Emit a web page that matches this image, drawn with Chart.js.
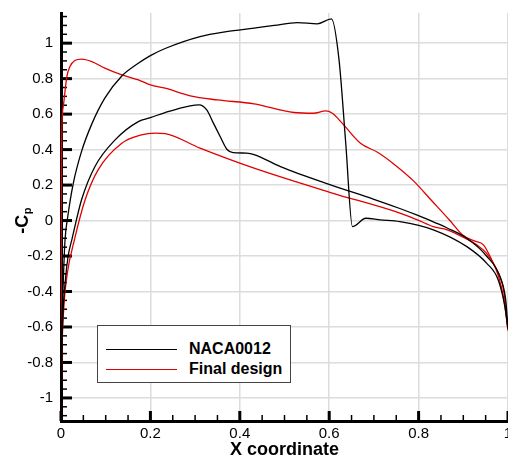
<!DOCTYPE html>
<html lang="en">
<head>
  <meta charset="UTF-8" />
  <title>Pressure coefficient</title>
  <script src="https://cdn.jsdelivr.net/npm/chart.js"></script>
  <style>
    body {
      margin: 0;
      padding: 0;
      background: white;
      overflow: hidden;
      font-family: 'Liberation Sans', Arial, sans-serif;
    }

    .wrap {
      position: relative;
      width: 508px;
      height: 457px;
    }

    .legend-box {
      position: absolute;
      left: 97px;
      top: 325px;
      width: 194px;
      height: 58px;
      box-sizing: border-box;
      border: 1.5px solid #444;
      background: white;
    }

    .legend-row {
      position: absolute;
      left: 0;
      height: 20px;
      display: flex;
      align-items: center;
    }

    .legend-line {
      width: 71px;
      margin-left: 8px;
      margin-right: 12px;
    }

    .legend-text {
      font-weight: bold;
      font-size: 16px;
      color: black;
    }
  </style>
</head>
<body>
  <div class="wrap">
    <canvas id="cpChart" width="508" height="457"></canvas>
    <div class="legend-box" id="legend"></div>
  </div>

  <script>
    // surface values, leading edge -> trailing edge
    const nacaUpperX  = [0, 0.0005, 0.002, 0.005, 0.009, 0.015, 0.0275, 0.046, 0.069, 0.098, 0.136, 0.172, 0.2, 0.233, 0.311, 0.37, 0.432, 0.477, 0.529, 0.573, 0.605, 0.622, 0.637, 0.652, 0.682, 0.714, 0.758, 0.833, 0.908, 0.952, 0.978, 0.993, 1.0];
    const nacaUpperCp = [-1.1, -0.9, -0.6, -0.35, -0.11, 0.02, 0.21, 0.39, 0.545, 0.69, 0.815, 0.885, 0.93, 0.97, 1.037, 1.065, 1.085, 1.10, 1.116, 1.109, 1.137, 0.906, 0.436, -0.034, 0.013, 0.004, -0.006, -0.052, -0.147, -0.24, -0.334, -0.485, -0.61];

    const nacaLowerX  = [0, 0.001, 0.004, 0.01, 0.016, 0.025, 0.046, 0.076, 0.121, 0.173, 0.2, 0.233, 0.289, 0.309, 0.326, 0.341, 0.356, 0.371, 0.385, 0.415, 0.432, 0.491, 0.603, 0.7, 0.758, 0.797, 0.833, 0.864, 0.908, 0.952, 0.982, 0.995, 1.0];
    const nacaLowerCp = [-1.1, -0.85, -0.55, -0.33, -0.2, -0.1, 0.117, 0.305, 0.455, 0.558, 0.58, 0.609, 0.647, 0.652, 0.624, 0.549, 0.474, 0.402, 0.383, 0.38, 0.372, 0.304, 0.201, 0.12, 0.068, 0.03, -0.008, -0.042, -0.1, -0.2, -0.316, -0.45, -0.61];

    const finalUpperX  = [0, 0.0002, 0.0005, 0.0008, 0.0015, 0.005, 0.013, 0.02, 0.031, 0.046, 0.069, 0.098, 0.136, 0.173, 0.2, 0.233, 0.289, 0.35, 0.432, 0.521, 0.565, 0.592, 0.607, 0.629, 0.67, 0.708, 0.745, 0.788, 0.83, 0.87, 0.9, 0.925, 0.945, 0.96, 0.979, 0.991, 1.0];
    const finalUpperCp = [-1.1, -0.8, -0.4, 0.0, 0.455, 0.643, 0.81, 0.868, 0.902, 0.91, 0.896, 0.859, 0.821, 0.793, 0.765, 0.746, 0.703, 0.68, 0.658, 0.609, 0.605, 0.618, 0.605, 0.549, 0.436, 0.385, 0.318, 0.225, 0.11, 0.0, -0.085, -0.115, -0.137, -0.203, -0.316, -0.447, -0.62];

    const finalLowerX  = [0, 0.002, 0.006, 0.014, 0.03, 0.054, 0.083, 0.136, 0.18, 0.21, 0.233, 0.311, 0.432, 0.603, 0.758, 0.797, 0.833, 0.864, 0.908, 0.93, 0.952, 0.975, 0.99, 1.0];
    const finalLowerCp = [-1.1, -0.75, -0.5, -0.3, -0.109, 0.117, 0.286, 0.436, 0.483, 0.493, 0.49, 0.408, 0.295, 0.158, 0.042, 0.004, -0.034, -0.052, -0.105, -0.137, -0.184, -0.278, -0.39, -0.62];

    const seriesNames = ['NACA0012', 'Final design'];
    const seriesColors = ['#000000', '#e00000'];

    const xTicks = [0, 0.2, 0.4, 0.6, 0.8, 1];
    const yTicks = [-1, -0.8, -0.6, -0.4, -0.2, 0, 0.2, 0.4, 0.6, 0.8, 1];
    const xRange = [0, 1];
    const yRange = [-1.13, 1.17];
    const minorStep = 0.05;

    function pts(xs, ys) {
      return xs.map((x, i) => ({ x, y: ys[i] }));
    }

    const FONT = "'Liberation Sans', Arial, sans-serif";

    // inward major/minor ticks plus the axis titles
    const axisExtras = {
      id: 'axisExtras',
      beforeDatasetsDraw(chart) {
        const { ctx, chartArea, scales: { x, y } } = chart;
        ctx.save();
        ctx.strokeStyle = '#000';
        const nx = Math.round((xRange[1] - xRange[0]) / minorStep);
        for (let i = 0; i <= nx; i++) {
          const v = xRange[0] + i * minorStep;
          const major = xTicks.some(t => Math.abs(t - v) < 1e-6);
          const px = x.getPixelForValue(v);
          ctx.lineWidth = major ? 3 : 1.5;
          ctx.beginPath();
          ctx.moveTo(px, chartArea.bottom);
          ctx.lineTo(px, chartArea.bottom - (major ? 10 : 6));
          ctx.stroke();
        }
        const start = Math.ceil(yRange[0] / minorStep);
        const end = Math.floor(yRange[1] / minorStep);
        for (let i = start; i <= end; i++) {
          const v = i * minorStep;
          const major = yTicks.some(t => Math.abs(t - v) < 1e-6);
          const py = y.getPixelForValue(v);
          ctx.lineWidth = major ? 3 : 1.5;
          ctx.beginPath();
          ctx.moveTo(chartArea.left, py);
          ctx.lineTo(chartArea.left + (major ? 11 : 6), py);
          ctx.stroke();
        }
        ctx.restore();
      },
      afterDraw(chart) {
        const { ctx, chartArea } = chart;
        ctx.save();
        ctx.fillStyle = '#000';

        // x title
        ctx.font = 'bold 18px ' + FONT;
        ctx.textAlign = 'center';
        ctx.textBaseline = 'alphabetic';
        ctx.fillText('X coordinate', (chartArea.left + chartArea.right) / 2, 455);

        // y title, -C with subscript p
        ctx.translate(21, 221);
        ctx.rotate(-Math.PI / 2);
        ctx.font = 'bold 18px ' + FONT;
        const w1 = ctx.measureText('-C').width;
        ctx.font = 'bold 11px ' + FONT;
        const w2 = ctx.measureText('p').width;
        const x0 = -(w1 + w2) / 2;
        ctx.textAlign = 'left';
        ctx.font = 'bold 18px ' + FONT;
        ctx.fillText('-C', x0, 6.5);
        ctx.font = 'bold 11px ' + FONT;
        ctx.fillText('p', x0 + w1 + 0.5, 10);
        ctx.restore();
      }
    };

    // upper and lower surface of each case are drawn as separate lines
    const surfaces = [
      { label: seriesNames[0], color: seriesColors[0], data: pts(nacaUpperX, nacaUpperCp) },
      { label: seriesNames[0], color: seriesColors[0], data: pts(nacaLowerX, nacaLowerCp) },
      { label: seriesNames[1], color: seriesColors[1], data: pts(finalUpperX, finalUpperCp) },
      { label: seriesNames[1], color: seriesColors[1], data: pts(finalLowerX, finalLowerCp) }
    ];

    const ctx = document.getElementById('cpChart').getContext('2d');
    const cpChart = new Chart(ctx, {
      type: 'scatter',
      data: {
        datasets: surfaces.map(s => ({
          label: s.label,
          data: s.data,
          borderColor: s.color,
          backgroundColor: s.color
        }))
      },
      options: {
        responsive: false,
        animation: false,
        showLine: true,
        elements: {
          point: { radius: 0, hoverRadius: 0 },
          line: { borderWidth: 1.3, cubicInterpolationMode: 'monotone', fill: false }
        },
        layout: { padding: { top: 13, left: 0, right: 0, bottom: 0 } },
        plugins: {
          legend: { display: false },
          tooltip: { enabled: false }
        },
        scales: {
          x: {
            type: 'linear',
            min: xRange[0],
            max: xRange[1],
            afterBuildTicks: scale => { scale.ticks = xTicks.map(v => ({ value: v })); },
            afterFit: scale => {
              scale.height = 36;
              scale.paddingLeft = 0;
              scale.paddingRight = 0;
            },
            ticks: {
              autoSkip: false,
              maxRotation: 0,
              padding: 4,
              color: '#000',
              font: { family: FONT, size: 15 },
              callback: v => String(+Number(v).toFixed(2))
            },
            grid: { color: '#dcdcdc', lineWidth: 1.5, drawTicks: false },
            border: { color: '#000', width: 3 }
          },
          y: {
            type: 'linear',
            min: yRange[0],
            max: yRange[1],
            afterBuildTicks: scale => { scale.ticks = yTicks.map(v => ({ value: v })); },
            afterFit: scale => {
              scale.width = 61;
              scale.paddingTop = 0;
              scale.paddingBottom = 0;
            },
            ticks: {
              autoSkip: false,
              padding: 8,
              color: '#000',
              font: { family: FONT, size: 15 },
              callback: v => String(+Number(v).toFixed(2))
            },
            grid: { color: '#dcdcdc', lineWidth: 1.5, drawTicks: false },
            border: { color: '#000', width: 3 }
          }
        }
      },
      plugins: [axisExtras]
    });

    // legend box, one row per case
    const legend = document.getElementById('legend');
    seriesNames.forEach((name, i) => {
      const row = document.createElement('div');
      row.className = 'legend-row';
      row.style.top = (i === 0 ? 13 : 33) + 'px';
      row.innerHTML = `<div class="legend-line" style="border-top: 1.3px solid ${seriesColors[i]}"></div>` +
        `<span class="legend-text">${name}</span>`;
      legend.appendChild(row);
    });
  </script>
</body>
</html>
